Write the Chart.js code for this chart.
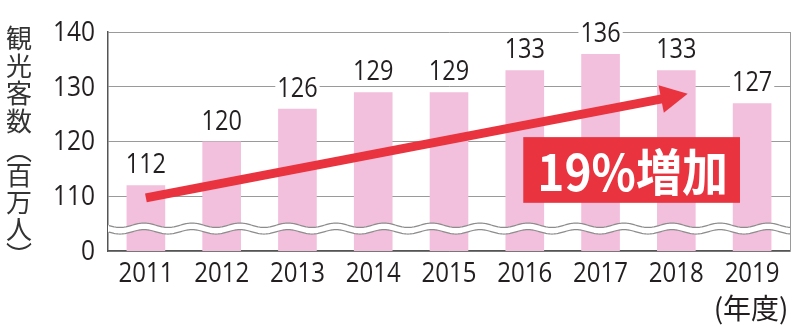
<!DOCTYPE html>
<html lang="ja">
<head>
  <meta charset="UTF-8">
  <title>観光客数の推移</title>
  <script src="https://cdn.jsdelivr.net/npm/chart.js"></script>
  <style>
    html, body { margin: 0; padding: 0; background: #fff; }
    #wrap { width: 800px; height: 334px; position: relative; }
  </style>
</head>
<body>
  <div id="wrap"><canvas id="visitorChart"></canvas></div>

  <script>
    // 観光客数（百万人）, 年度別
    const years = ['2011', '2012', '2013', '2014', '2015', '2016', '2017', '2018', '2019'];
    const visitors = [112, 120, 126, 129, 129, 133, 136, 133, 127];
    const yTicks = [100, 110, 120, 130, 140];   // 100 is shown as "0" below the axis break
    const axisTitle = ['観', '光', '客', '数', '︵', '百', '万', '人', '︶'];
    const growthLabel = '19%増加';
    // trend arrow, in (category index, value) terms
    const arrowFrom = [0.0, 109.7];
    const arrowTo = [7.15, 128.7];

    const numFont = "'Open Sans', 'Noto Sans CJK JP', sans-serif";
    const jpFont = "'Noto Sans CJK JP', sans-serif";
    const barPink = '#f2c0dc';
    const red = '#e9343f';
    const ink = '#231f20';

    // text squeezed horizontally, numbers in this chart use a narrow face
    function narrowText(ctx, txt, x, y, sx) {
      ctx.save();
      ctx.translate(x, y);
      ctx.scale(sx, 1);
      ctx.fillText(txt, 0, 0);
      ctx.restore();
    }

    const decorations = {
      id: 'decorations',
      afterDatasetsDraw(chart) {
        const { ctx, chartArea: a, scales: { x, y } } = chart;
        ctx.save();

        // right frame line
        ctx.strokeStyle = '#9a9a9a';
        ctx.lineWidth = 1;
        ctx.beginPath();
        ctx.moveTo(a.right + 0.5, a.top);
        ctx.lineTo(a.right + 0.5, a.bottom);
        ctx.stroke();

        // wavy axis break
        const yTop = y.getPixelForValue(104.7);
        const yBot = y.getPixelForValue(103.5);
        const wave = (x0, base) => base + 2.2 * Math.sin((x0 - a.left) / 48 * Math.PI * 2);
        ctx.fillStyle = '#fff';
        ctx.beginPath();
        for (let px = a.left; px <= a.right; px++) ctx.lineTo(px, wave(px, yTop));
        for (let px = a.right; px >= a.left; px--) ctx.lineTo(px, wave(px, yBot));
        ctx.closePath();
        ctx.fill();
        ctx.strokeStyle = '#8c8c8c';
        ctx.lineWidth = 1.2;
        [yTop, yBot].forEach(base => {
          ctx.beginPath();
          for (let px = a.left + 1; px <= a.right; px++) ctx.lineTo(px, wave(px, base));
          ctx.stroke();
        });

        // value labels
        ctx.font = "27px " + numFont;
        ctx.textAlign = 'center';
        ctx.textBaseline = 'alphabetic';
        chart.getDatasetMeta(0).data.forEach((bar, i) => {
          const txt = String(visitors[i]);
          const w = ctx.measureText(txt).width * 0.87;
          ctx.fillStyle = '#fff';
          ctx.fillRect(bar.x - w / 2 - 2, bar.y - 33, w + 4, 23);
          ctx.fillStyle = ink;
          narrowText(ctx, txt, bar.x, bar.y - 12, 0.87);
        });

        // trend arrow
        const x1 = x.getPixelForValue(arrowFrom[0]), y1 = y.getPixelForValue(arrowFrom[1]);
        const x2 = x.getPixelForValue(arrowTo[0]), y2 = y.getPixelForValue(arrowTo[1]);
        const ang = Math.atan2(y2 - y1, x2 - x1);
        const headLen = 27, headHalf = 14;
        const bx = x2 - headLen * Math.cos(ang), by = y2 - headLen * Math.sin(ang);
        ctx.strokeStyle = red;
        ctx.lineWidth = 9;
        ctx.beginPath();
        ctx.moveTo(x1, y1);
        ctx.lineTo(bx + 2 * Math.cos(ang), by + 2 * Math.sin(ang));
        ctx.stroke();
        ctx.fillStyle = red;
        ctx.beginPath();
        ctx.moveTo(x2, y2);
        ctx.lineTo(bx + headHalf * Math.sin(ang), by - headHalf * Math.cos(ang));
        ctx.lineTo(bx - headHalf * Math.sin(ang), by + headHalf * Math.cos(ang));
        ctx.closePath();
        ctx.fill();

        // growth badge
        const bxL = x.getPixelForValue(4.98), bxR = x.getPixelForValue(7.84);
        const byT = y.getPixelForValue(120.8), byB = y.getPixelForValue(108.8);
        ctx.fillStyle = red;
        ctx.fillRect(bxL, byT, bxR - bxL, byB - byT);
        ctx.fillStyle = '#fff';
        ctx.font = "bold 50px " + jpFont;
        ctx.textAlign = 'center';
        ctx.textBaseline = 'middle';
        narrowText(ctx, growthLabel, (bxL + bxR) / 2 + 1, (byT + byB) / 2 + 2, 0.92);

        ctx.restore();
      },
      afterDraw(chart) {
        const { ctx, chartArea: a, scales: { x, y } } = chart;
        ctx.save();
        ctx.fillStyle = ink;

        // tick labels
        ctx.font = "28px " + numFont;
        ctx.textAlign = 'right';
        ctx.textBaseline = 'middle';
        yTicks.forEach(v => {
          narrowText(ctx, v === 100 ? '0' : String(v), a.left - 13, y.getPixelForValue(v) + 1, 0.875);
        });
        ctx.font = "27px " + numFont;
        ctx.textAlign = 'center';
        years.forEach((yr, i) => narrowText(ctx, yr, x.getPixelForValue(i), 274, 0.89));

        // vertical axis title (the vertical bracket glyphs sit off-centre in their em box)
        ctx.fillStyle = '#333';
        ctx.textAlign = 'center';
        ctx.font = "26px " + jpFont;
        const ys = [38, 66, 93, 121, 150, 175, 202, 229, 255];
        axisTitle.forEach((ch, i) => ctx.fillText(ch, 19, ys[i]));

        // unit under the last year
        ctx.font = "28px " + jpFont;
        ctx.fillStyle = ink;
        ctx.fillText('(年度)', x.getPixelForValue(years.length - 1) - 1, 308);
        ctx.restore();
      }
    };

    new Chart(document.getElementById('visitorChart'), {
      type: 'bar',
      data: {
        labels: years,
        datasets: [{
          data: visitors,
          backgroundColor: barPink,
          borderWidth: 0,
          barPercentage: 0.51,
          categoryPercentage: 1.0
        }]
      },
      options: {
        responsive: true,
        maintainAspectRatio: false,
        animation: false,
        layout: { padding: { top: 32, right: 10, left: 0, bottom: 0 } },
        plugins: { legend: { display: false }, tooltip: { enabled: false } },
        scales: {
          x: {
            grid: { display: false },
            border: { color: '#555', width: 1.5 },
            ticks: { color: 'rgba(0,0,0,0)', font: { family: numFont, size: 25 } },
            afterFit: s => { s.height = 83; }
          },
          y: {
            min: 100,
            max: 140,
            afterBuildTicks: s => { s.ticks = yTicks.map(v => ({ value: v })); },
            grid: { color: '#9a9a9a', lineWidth: 1, drawTicks: false },
            border: { color: '#555', width: 1.5 },
            ticks: { color: 'rgba(0,0,0,0)', font: { family: numFont, size: 26 } },
            afterFit: s => { s.width = 108; }
          }
        }
      },
      plugins: [decorations]
    });
  </script>
</body>
</html>
